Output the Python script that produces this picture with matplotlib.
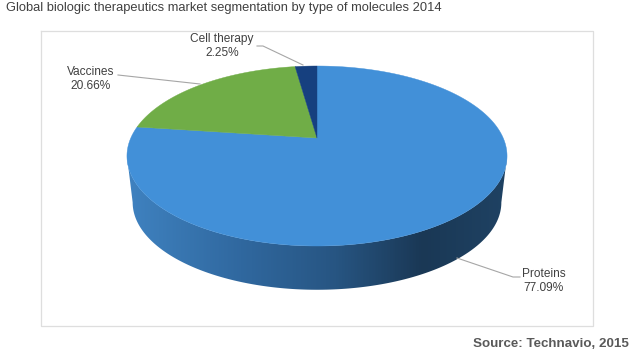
import numpy as np
import matplotlib
matplotlib.use("Agg")
import matplotlib.pyplot as plt
from matplotlib.colors import LinearSegmentedColormap
from matplotlib.patches import Polygon

categories = ["Proteins", "Vaccines", "Cell therapy"]
shares = [77.09, 20.66, 2.25]
slice_colors = ["#4290d8", "#70ad47", "#16407f"]

title = "Global biologic therapeutics market segmentation by type of molecules 2014"
source = "Source: Technavio, 2015"

# where each label sits and how its leader line runs (pixels)
label_pos = [(544, 281), (91, 79), (222, 46)]
leaders = [
    [(457, 258), (513, 277), (520, 277)],
    [(200, 84), (118, 75)],
    [(303, 65), (263, 46), (257, 46)],
]

# pie geometry, the chart is a tilted disc in perspective
cx, cy = 317, 138
persp = 0.2
r_x = 186.2
r_y = 86.4
depth = 47
shrink = 0.97

plt.rcParams["font.family"] = ["Liberation Sans", "DejaVu Sans"]


def project(theta, scale=1.0, drop=0):
    u = np.cos(theta)
    v = np.sin(theta)
    w = 1 / (1 + persp * v)
    return cx + scale * r_x * u * w, cy + drop - scale * r_y * v * w


fig = plt.figure(figsize=(6.36, 3.57), dpi=100)
ax = fig.add_axes([0, 0, 1, 1])
ax.axis("off")

# chart frame
ax.plot([41, 593, 593, 41, 41], [30.5, 30.5, 326, 326, 30.5],
        color="#dedede", lw=0.9, zorder=1)

# side wall, a left to right gradient clipped to the wall outline
wall_cmap = LinearSegmentedColormap.from_list(
    "wall",
    [(0, "#3f82c0"), (0.3, "#30689f"), (0.55, "#275582"),
     (0.78, "#1a3855"), (1, "#1f4263")])
# 191.5 and 348.5 degrees are where the disc is widest on screen
th_wall = np.radians(np.linspace(191.5, 348.5, 300))
xt, yt = project(th_wall)
xb, yb = project(th_wall[::-1], shrink, depth)
outline = Polygon(np.c_[np.r_[xt, xb], np.r_[yt, yb]], closed=True,
                  transform=ax.transData, fc="none", ec="none")
ax.add_patch(outline)
grad = ax.imshow(np.linspace(0, 1, 380)[None, :], cmap=wall_cmap, aspect="auto",
                 extent=(127, 507, 300, 130), zorder=2)
grad.set_clip_path(outline)

# top face, clockwise from 12 o'clock
fractions = np.array(shares) / sum(shares)
start = 0.0
for frac, col in zip(fractions, slice_colors):
    th = np.radians(90 - 360 * np.linspace(start, start + frac, 300))
    xs, ys = project(th)
    ax.fill(np.r_[cx, xs], np.r_[cy, ys], color=col, lw=0.3, zorder=3)
    start += frac

for name, val, pos, line in zip(categories, shares, label_pos, leaders):
    ax.text(pos[0], pos[1], f"{name}\n{val:.2f}%", ha="center", va="center",
            fontsize=8.6, color="#404040", linespacing=1.33, zorder=5)
    ax.plot([p[0] for p in line], [p[1] for p in line],
            color="#a6a6a6", lw=0.8, zorder=4)

ax.text(6, 8, title, ha="left", va="center", fontsize=9.3, color="#404040")
ax.text(629, 344, source, ha="right", va="center", fontsize=9.6,
        fontweight="bold", color="#595959")

ax.set_xlim(0, 636)
ax.set_ylim(357, 0)

fig.savefig("out.png", dpi=100)
